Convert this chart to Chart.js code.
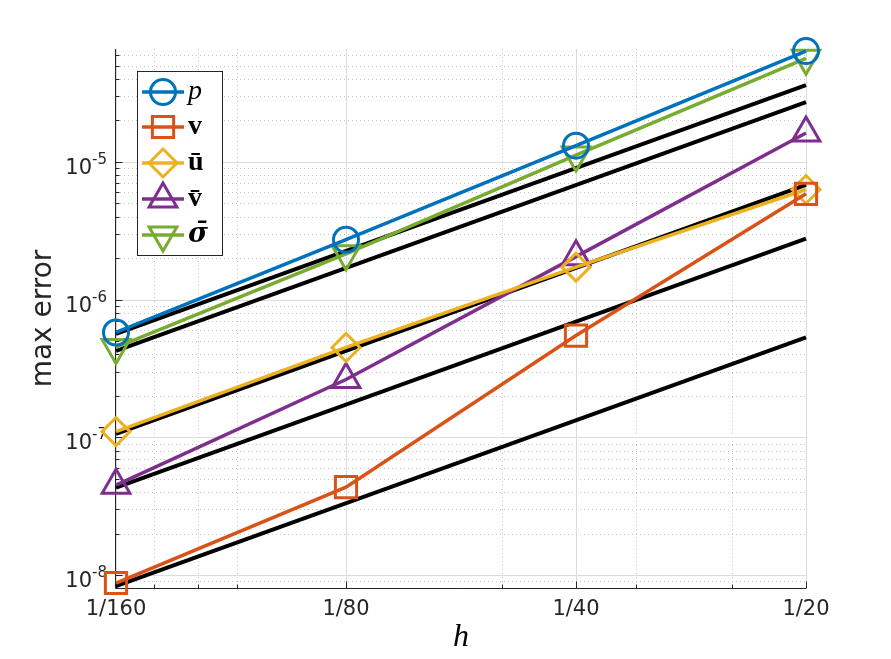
<!DOCTYPE html>
<html>
<head>
<meta charset="utf-8">
<title>max error vs h</title>
<script src="https://cdn.jsdelivr.net/npm/chart.js@4.4.1/dist/chart.umd.min.js"></script>
<style>
    html, body { margin: 0; padding: 0; background: #fff; }
    #wrap { width: 891px; height: 659px; }
</style>
</head>
<body>
<div id="wrap"><canvas id="errorChart" width="891" height="659"></canvas></div>
<script>
// Mesh sizes and axis ticks
const hValues = [1/160, 1/80, 1/40, 1/20];
const hLabels = ['1/160', '1/80', '1/40', '1/20'];
const hMinor = [0.007, 0.008, 0.009, 0.02, 0.03, 0.04];
const yDecades = [1e-8, 1e-7, 1e-6, 1e-5];
const yExponents = ['-8', '-7', '-6', '-5'];

// Max errors per unknown
const errP = [5.77e-7, 2.72e-6, 1.31e-5, 6.37e-5];
const errV = [8.75e-9, 4.35e-8, 5.48e-7, 5.86e-6];
const errUbar = [1.10e-7, 4.49e-7, 1.72e-6, 6.3e-6];
const errVbar = [4.49e-8, 2.63e-7, 2.05e-6, 1.62e-5];
const errSigma = [4.49e-7, 2.15e-6, 1.12e-5, 5.65e-5];

// Reference O(h^2) lines (values at h = 1/160 and h = 1/20)
const refH = [1/160, 1/20];
const ref1 = [5.64e-7, 3.61e-5];
const ref2 = [4.25e-7, 2.72e-5];
const ref3 = [1.06e-7, 6.81e-6];
const ref4 = [4.32e-8, 2.77e-6];
const ref5 = [8.3e-9, 5.31e-7];

const seriesNames = ['p', 'v', '\u016B', 'v\u0304', '\u03C3\u0304'];
const seriesColors = ['#0072BD', '#D95319', '#EDB120', '#7E2F8E', '#77AC30'];
const seriesData = [errP, errV, errUbar, errVbar, errSigma];
const seriesMarkers = ['circle', 'rect', 'rectRot', 'triangle', 'triangle'];
const markerRadius = [12.5, 15, 14, 16, 16];
const markerRotation = [0, 0, 0, 0, 180];

const axisColor = '#262626';

function toPoints(xs, ys) {
    return xs.map((x, i) => ({ x: x, y: ys[i] }));
}

function buildDatasets() {
    const sets = seriesData.map((vals, i) => ({
        label: seriesNames[i],
        data: toPoints(hValues, vals),
        borderColor: seriesColors[i],
        backgroundColor: 'rgba(0,0,0,0)',
        borderWidth: 3.5,
        pointStyle: seriesMarkers[i],
        pointRadius: markerRadius[i],
        pointRotation: markerRotation[i],
        pointBorderWidth: 3,
        pointBorderColor: seriesColors[i],
        pointBackgroundColor: 'rgba(0,0,0,0)',
        showLine: true,
        clip: false,
        tension: 0
    }));
    [ref1, ref2, ref3, ref4, ref5].forEach(ref => {
        sets.push({
            label: '',
            data: toPoints(refH, ref),
            borderColor: '#000',
            borderWidth: 4,
            pointRadius: 0,
            showLine: true,
            clip: false
        });
    });
    return sets;
}

function px(v) { return Math.round(v) + 0.5; }

// Grid, axis lines, tick marks and y labels (MATLAB look)
const axesPlugin = {
    id: 'matlabAxes',
    beforeDatasetsDraw(chart) {
        const { ctx, chartArea: a, scales: { x, y } } = chart;
        ctx.save();
        ctx.lineWidth = 1;

        // minor grid (dotted)
        ctx.strokeStyle = '#c4c4c4';
        ctx.setLineDash([1, 3]);
        for (let k = -9; k <= -4; k++) {
            for (let m = 2; m <= 9; m++) {
                const v = m * Math.pow(10, k);
                if (v < y.min || v > y.max) continue;
                const yy = px(y.getPixelForValue(v));
                ctx.beginPath(); ctx.moveTo(a.left, yy); ctx.lineTo(a.right, yy); ctx.stroke();
            }
        }
        hMinor.forEach(v => {
            const xx = px(x.getPixelForValue(v));
            ctx.beginPath(); ctx.moveTo(xx, a.top); ctx.lineTo(xx, a.bottom); ctx.stroke();
        });

        // major grid
        ctx.setLineDash([]);
        ctx.strokeStyle = '#dcdcdc';
        yDecades.forEach(v => {
            const yy = px(y.getPixelForValue(v));
            ctx.beginPath(); ctx.moveTo(a.left, yy); ctx.lineTo(a.right, yy); ctx.stroke();
        });
        hValues.forEach(v => {
            const xx = px(x.getPixelForValue(v));
            ctx.beginPath(); ctx.moveTo(xx, a.top); ctx.lineTo(xx, a.bottom); ctx.stroke();
        });

        // axis lines
        ctx.strokeStyle = axisColor;
        const left = px(a.left - 1), bottom = px(a.bottom);
        ctx.beginPath();
        ctx.moveTo(left, a.top);
        ctx.lineTo(left, bottom);
        ctx.lineTo(a.right, bottom);
        ctx.stroke();

        // tick marks (inward)
        ctx.beginPath();
        hValues.forEach(v => {
            const xx = px(x.getPixelForValue(v));
            ctx.moveTo(xx, bottom); ctx.lineTo(xx, bottom - 7);
        });
        hMinor.forEach(v => {
            const xx = px(x.getPixelForValue(v));
            ctx.moveTo(xx, bottom); ctx.lineTo(xx, bottom - 4);
        });
        yDecades.forEach(v => {
            const yy = px(y.getPixelForValue(v));
            ctx.moveTo(left, yy); ctx.lineTo(left + 7, yy);
        });
        for (let k = -9; k <= -4; k++) {
            for (let m = 2; m <= 9; m++) {
                const v = m * Math.pow(10, k);
                if (v < y.min || v > y.max) continue;
                const yy = px(y.getPixelForValue(v));
                ctx.moveTo(left, yy); ctx.lineTo(left + 4, yy);
            }
        }
        ctx.stroke();

        // y tick labels 10^k
        ctx.fillStyle = axisColor;
        ctx.textAlign = 'right';
        ctx.textBaseline = 'alphabetic';
        yDecades.forEach((v, i) => {
            const yy = y.getPixelForValue(v);
            const rightEdge = a.left - 9;
            ctx.font = '15px "DejaVu Sans"';
            const expW = ctx.measureText(yExponents[i]).width;
            ctx.fillText(yExponents[i], rightEdge, yy + 2);
            ctx.font = '21px "DejaVu Sans"';
            ctx.fillText('10', rightEdge - expW, yy + 12);
        });
        ctx.restore();
    }
};

function drawMarker(ctx, style, x, y, r, rot) {
    ctx.beginPath();
    if (style === 'circle') {
        ctx.arc(x, y, r, 0, Math.PI * 2);
    } else if (style === 'rect') {
        const s = Math.SQRT1_2 * r;
        ctx.rect(x - s, y - s, 2 * s, 2 * s);
    } else if (style === 'rectRot') {
        ctx.moveTo(x - r, y); ctx.lineTo(x, y - r); ctx.lineTo(x + r, y); ctx.lineTo(x, y + r);
        ctx.closePath();
    } else {
        let rad = rot * Math.PI / 180;
        ctx.moveTo(x + Math.sin(rad) * r, y - Math.cos(rad) * r);
        rad += 2 * Math.PI / 3;
        ctx.lineTo(x + Math.sin(rad) * r, y - Math.cos(rad) * r);
        rad += 2 * Math.PI / 3;
        ctx.lineTo(x + Math.sin(rad) * r, y - Math.cos(rad) * r);
        ctx.closePath();
    }
    ctx.stroke();
}

// Legend box in the top-left corner
const legendPlugin = {
    id: 'matlabLegend',
    afterDatasetsDraw(chart) {
        const ctx = chart.ctx;
        const box = { x: 137.5, y: 71.5, w: 85, h: 184 };
        const rowY = [92, 127, 163, 199, 235];
        ctx.save();
        ctx.fillStyle = '#fff';
        ctx.fillRect(box.x, box.y, box.w, box.h);
        ctx.strokeStyle = axisColor;
        ctx.lineWidth = 1;
        ctx.strokeRect(box.x, box.y, box.w, box.h);

        seriesNames.forEach((name, i) => {
            const yy = rowY[i];
            ctx.strokeStyle = seriesColors[i];
            ctx.lineWidth = 3.5;
            ctx.beginPath(); ctx.moveTo(142, yy); ctx.lineTo(184, yy); ctx.stroke();
            ctx.lineWidth = 3;
            drawMarker(ctx, seriesMarkers[i], 163, yy, markerRadius[i], markerRotation[i]);

            ctx.fillStyle = '#000';
            ctx.textAlign = 'left';
            ctx.textBaseline = 'alphabetic';
            if (i === 0) ctx.font = 'italic 28px "Liberation Serif"';
            else if (i === 4) ctx.font = 'bold italic 27px "DejaVu Serif"';
            else ctx.font = 'bold 28px "Liberation Serif"';
            ctx.fillText(name, 188, yy + 7);
        });
        ctx.restore();
    }
};

new Chart(document.getElementById('errorChart'), {
    type: 'scatter',
    data: { datasets: buildDatasets() },
    options: {
        responsive: false,
        animation: false,
        layout: { padding: { left: 0, right: 85, top: 49, bottom: 0 } },
        plugins: {
            legend: { display: false },
            tooltip: { enabled: false }
        },
        scales: {
            x: {
                type: 'logarithmic',
                min: 1/160,
                max: 1/20,
                afterBuildTicks: s => { s.ticks = hValues.map(v => ({ value: v })); },
                afterFit: s => { s.height = 71; },
                ticks: {
                    autoSkip: false,
                    maxRotation: 0,
                    padding: 1,
                    color: axisColor,
                    font: { family: 'DejaVu Sans', size: 21 },
                    callback: (v, i) => hLabels[i]
                },
                grid: { display: false },
                border: { display: false },
                title: {
                    display: true,
                    text: 'h',
                    color: '#000',
                    font: { family: 'Liberation Serif', style: 'italic', size: 32 },
                    padding: { top: 0, bottom: 2 }
                }
            },
            y: {
                type: 'logarithmic',
                min: 8.05e-9,
                max: 6.6e-5,
                afterBuildTicks: s => { s.ticks = yDecades.map(v => ({ value: v })); },
                afterFit: s => { s.width = 116; },
                ticks: { display: false },
                grid: { display: false },
                border: { display: false },
                title: {
                    display: true,
                    text: 'max error',
                    color: axisColor,
                    font: { family: 'DejaVu Sans', size: 28 },
                    padding: { top: 27, bottom: 0 }
                }
            }
        }
    },
    plugins: [axesPlugin, legendPlugin]
});
</script>
</body>
</html>
